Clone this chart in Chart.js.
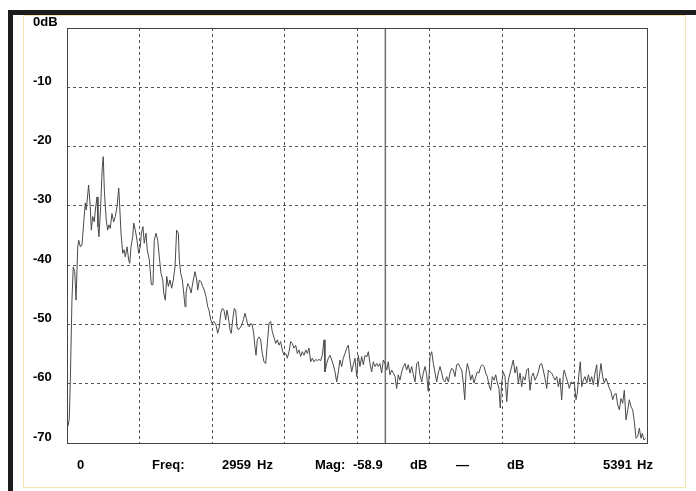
<!DOCTYPE html>
<html>
<head>
<meta charset="utf-8">
<script src="https://cdn.jsdelivr.net/npm/chart.js@4.4.1/dist/chart.umd.min.js"></script>
<style>
    html, body { margin: 0; padding: 0; background: #fff; }
    #wrap { position: relative; width: 696px; height: 491px; }
</style>
</head>
<body>
<div id="wrap"><canvas id="spectrum"></canvas></div>
<script>
// Frequency axis range (Hz) and magnitude range (dB)
const freqMin = 0;
const freqMax = 5391;
const dbMin = -70;
const dbMax = 0;
const freqDivisions = 8;
const dbTicks = [0, -10, -20, -30, -40, -50, -60, -70];

// Cursor readout
const cursorFreq = 2959;
const cursorMag = -58.9;

// Spectrum trace
const freqHz = [
    9, 21, 31, 46, 58, 72, 84, 100, 109, 124, 139, 155, 170, 179, 201, 216, 226, 239, 254, 263,
    279, 288, 297, 313, 328, 337, 347, 356, 365, 378, 390, 402, 418, 434, 449, 465, 481, 490, 502, 518,
    530, 542, 558, 573, 583, 595, 611, 620, 635, 651, 666, 681, 691, 706, 718, 734, 746, 765, 784, 799,
    811, 827, 843, 858, 874, 890, 899, 914, 927, 942, 957, 973, 988, 1004, 1019, 1035, 1044, 1057, 1072, 1085,
    1097, 1106, 1122, 1137, 1153, 1174, 1190, 1206, 1215, 1230, 1246, 1261, 1276, 1292, 1308, 1320, 1336, 1348, 1366, 1385,
    1401, 1416, 1429, 1444, 1459, 1475, 1487, 1499, 1515, 1527, 1540, 1555, 1568, 1580, 1592, 1608, 1624, 1639, 1655, 1667,
    1680, 1694, 1710, 1722, 1735, 1747, 1757, 1769, 1785, 1800, 1815, 1831, 1847, 1862, 1878, 1893, 1908, 1924, 1940, 1955,
    1971, 1986, 2001, 2017, 2033, 2048, 2064, 2079, 2094, 2110, 2126, 2141, 2156, 2172, 2187, 2203, 2219, 2234, 2249, 2265,
    2280, 2296, 2312, 2327, 2342, 2358, 2373, 2389, 2398, 2414, 2429, 2445, 2460, 2475, 2491, 2507, 2522, 2537, 2553, 2568,
    2584, 2600, 2615, 2630, 2646, 2661, 2677, 2693, 2708, 2723, 2739, 2754, 2770, 2786, 2801, 2816, 2832, 2847, 2863, 2879,
    2894, 2909, 2925, 2940, 2956, 2972, 2986, 3002, 3018, 3033, 3049, 3064, 3079, 3095, 3111, 3126, 3142, 3157, 3172, 3188,
    3204, 3219, 3235, 3250, 3265, 3281, 3297, 3312, 3328, 3343, 3358, 3374, 3390, 3405, 3421, 3436, 3451, 3467, 3483, 3498,
    3513, 3529, 3544, 3560, 3576, 3591, 3606, 3622, 3637, 3653, 3669, 3684, 3697, 3709, 3721, 3737, 3752, 3767, 3783, 3799,
    3814, 3829, 3845, 3860, 3876, 3892, 3907, 3922, 3938, 3953, 3969, 3985, 4000, 4015, 4027, 4040, 4055, 4071, 4087, 4102,
    4118, 4133, 4148, 4164, 4180, 4195, 4211, 4226, 4241, 4257, 4273, 4288, 4304, 4319, 4334, 4350, 4366, 4381, 4396, 4412,
    4427, 4443, 4459, 4474, 4489, 4505, 4520, 4536, 4552, 4567, 4582, 4598, 4613, 4622, 4638, 4654, 4669, 4685, 4700, 4715,
    4731, 4743, 4759, 4771, 4784, 4799, 4815, 4831, 4846, 4861, 4877, 4892, 4908, 4924, 4933, 4948, 4963, 4979, 4994, 5010,
    5026, 5041, 5056, 5072, 5087, 5103, 5119, 5134, 5149, 5165, 5180, 5196, 5212, 5227, 5242, 5258, 5273, 5289, 5305, 5320,
    5335, 5347, 5363, 5379
];
const magDb = [
    -67.2, -66, -59.4, -45.9, -40.3, -41.1, -45.9, -36.9, -35.8, -36.9, -36.6, -32.9, -29.5, -30.7, -26.5, -30.1, -34.1, -31.8, -32.7, -30.7,
    -28.5, -33.5, -35.2, -30.1, -23.4, -21.7, -27.3, -30.1, -32.4, -34.1, -33.2, -33.8, -31.3, -32.7, -31.8, -30.1, -27, -30.1, -34.6, -38,
    -37.4, -38.6, -36.9, -39.1, -39.7, -36.9, -35.2, -32.9, -34.1, -35.8, -38, -36.9, -34.6, -33.5, -36.3, -34.6, -37.4, -39.1, -43.3, -43.3,
    -35.8, -34.6, -35.8, -38.6, -41.4, -42.5, -44.7, -45.9, -41.9, -43.6, -42.5, -43.9, -42.5, -40.3, -34.1, -34.6, -39.1, -41.4, -42.5, -44.7,
    -47, -44.7, -43.1, -43.6, -44.7, -42.5, -41.1, -42.5, -44.2, -42.5, -42.8, -43.6, -44.2, -45.3, -47, -47.6, -49.2, -49.8, -49.5, -50.1,
    -51.5, -50.4, -48.1, -47.3, -47.6, -49.2, -47.6, -48.7, -50.9, -51.5, -49.2, -47.3, -47.6, -50.4, -50.9, -50.6, -50.1, -49.2, -48.1, -49,
    -50.1, -50.4, -49.8, -50.1, -51.5, -53.8, -55.2, -52.6, -52.1, -52.6, -54.9, -56.3, -56.6, -53.2, -49.8, -49.5, -51.2, -52.2, -53.2, -52.6,
    -53.5, -52.9, -54.3, -55.2, -54.9, -55.7, -54.6, -52.9, -53.2, -54, -53.5, -54.9, -54.3, -55.4, -54.6, -55.2, -54.3, -54.9, -54, -56.3,
    -55.7, -56.3, -55.9, -56.1, -55.9, -56.1, -55.2, -52.6, -58, -56.6, -55.7, -55.2, -56, -56.8, -58, -59.7, -58, -56, -57.1, -55.7,
    -54.9, -54, -53.5, -56, -58, -56.8, -55.7, -58.8, -55.2, -57.1, -55.4, -56.8, -55.2, -55.5, -54.6, -56.6, -58, -56.3, -57.1, -56.6,
    -57.1, -56.6, -58.2, -56, -56.6, -57.7, -56.3, -58.5, -57.7, -58.2, -58.8, -60.8, -58.5, -59.4, -58, -57.1, -56.6, -57.7, -56.8, -58.2,
    -57.1, -58.5, -59.7, -56.6, -56.3, -58.5, -59.7, -58.2, -57.1, -58.5, -61.3, -55.4, -54.6, -56.6, -58.2, -59.7, -58.2, -57.1, -58.2, -59.4,
    -59.7, -58.8, -59.7, -58.2, -57.4, -57.7, -58.8, -56.8, -56.6, -57.2, -57.7, -59.9, -62.7, -58.2, -56.6, -57.7, -59.4, -58.5, -59.9, -58.8,
    -58, -58.2, -57.1, -56.8, -57.1, -58.2, -58.8, -60.2, -61.1, -58.8, -59.4, -58.5, -59.9, -60.8, -64.1, -59.9, -58, -58.8, -63, -59.4,
    -58.2, -57.1, -56, -58.2, -57.1, -59.9, -58.2, -60.5, -58.8, -59.4, -57.7, -57.4, -61.1, -58.8, -58.2, -59.4, -58.8, -58, -56.8, -56.6,
    -57.7, -59.1, -60.8, -57.7, -58, -58.2, -58.8, -59.4, -58.8, -60.5, -59.1, -62.7, -58.5, -57.7, -58.8, -59.7, -60.8, -59.7, -59.9, -59.7,
    -62.7, -61.6, -58.2, -56.3, -60.5, -59.4, -58.8, -59.9, -58.5, -59.7, -58.8, -60.2, -58.2, -56.8, -60.5, -58.8, -56.6, -58.8, -59.9, -59.1,
    -59.9, -60.8, -61.3, -62.7, -61.9, -61.6, -63.6, -64.4, -62.5, -63.3, -61.1, -66.1, -64.4, -62.7, -63.9, -64.4, -66.4, -69.2, -68.9, -67.5,
    -69.2, -68.4, -69.5, -69.2
];

const xGridHz = Array.from({length: freqDivisions + 1}, (_, i) => freqMin + i * (freqMax - freqMin) / freqDivisions);

const uiFont = 'bold 13px "Liberation Sans", Arial, sans-serif';

// Page frame: black bars top/left, thin cream border
const framePlugin = {
    id: 'frame',
    beforeDraw(chart) {
        const ctx = chart.ctx;
        ctx.save();
        ctx.fillStyle = '#ffffff';
        ctx.fillRect(0, 0, chart.width, chart.height);
        ctx.fillStyle = '#1c1c1c';
        ctx.fillRect(8, 10, chart.width - 8, 5);
        ctx.fillRect(8, 10, 5, chart.height - 10);
        ctx.strokeStyle = '#f6e6b0';
        ctx.lineWidth = 1;
        ctx.strokeRect(23.5, 15.5, 662, 472);
        ctx.restore();
    },
    afterDraw(chart) {
        const ctx = chart.ctx;
        const a = chart.chartArea;
        ctx.save();
        // solid plot outline
        ctx.strokeStyle = '#444';
        ctx.lineWidth = 1;
        ctx.strokeRect(Math.round(a.left) + 0.5, Math.round(a.top) + 0.5,
            Math.round(a.right - a.left), Math.round(a.bottom - a.top));

        // status row
        const y = 469;
        ctx.fillStyle = '#000';
        ctx.font = uiFont;
        ctx.textAlign = 'left';
        ctx.textBaseline = 'alphabetic';
        ctx.fillText(String(freqMin), 77, y);
        ctx.fillText('Freq:', 152, y);
        ctx.fillText(String(cursorFreq), 222, y);
        ctx.fillText('Hz', 257, y);
        ctx.fillText('Mag:', 315, y);
        ctx.fillText(cursorMag.toFixed(1), 353, y);
        ctx.fillText('dB', 410, y);
        ctx.fillText('\u2014', 456, y);
        ctx.fillText('dB', 507, y);
        ctx.fillText(String(freqMax), 603, y);
        ctx.fillText('Hz', 637, y);
        ctx.restore();
    }
};

let ctxSpec = document.getElementById('spectrum').getContext('2d');

let spectrumChart = new Chart(ctxSpec, {
    type: 'line',
    data: {
        datasets: [{
            label: 'Spectrum',
            data: freqHz.map((f, i) => ({x: f, y: magDb[i]})),
            borderColor: '#4a4a4a',
            borderWidth: 1,
            pointRadius: 0,
            tension: 0
        }, {
            label: 'Cursor',
            data: [{x: cursorFreq, y: dbMax}, {x: cursorFreq, y: dbMin}],
            borderColor: '#707070',
            borderWidth: 1.5,
            pointRadius: 0
        }]
    },
    options: {
        responsive: true,
        maintainAspectRatio: false,
        animation: false,
        layout: {
            padding: {left: 33, top: 28, right: 49, bottom: 48}
        },
        plugins: {
            legend: {display: false},
            tooltip: {enabled: false}
        },
        scales: {
            x: {
                type: 'linear',
                min: freqMin,
                max: freqMax,
                afterBuildTicks: s => { s.ticks = xGridHz.map(v => ({value: v})); },
                ticks: {display: false},
                grid: {color: '#555', lineWidth: 1, drawTicks: false},
                border: {display: false, dash: [3, 3]}
            },
            y: {
                min: dbMin,
                max: dbMax,
                afterBuildTicks: s => { s.ticks = dbTicks.map(v => ({value: v})); },
                afterFit: s => { s.width = 34; },
                ticks: {
                    crossAlign: 'far',
                    labelOffset: -6,
                    padding: 0,
                    color: '#000',
                    font: {family: '"Liberation Sans", Arial, sans-serif', size: 13, weight: 'bold'},
                    callback: v => (v === 0 ? '0dB' : String(v))
                },
                grid: {color: '#555', lineWidth: 1, drawTicks: false},
                border: {display: false, dash: [3, 3]}
            }
        }
    },
    plugins: [framePlugin]
});
</script>
</body>
</html>
